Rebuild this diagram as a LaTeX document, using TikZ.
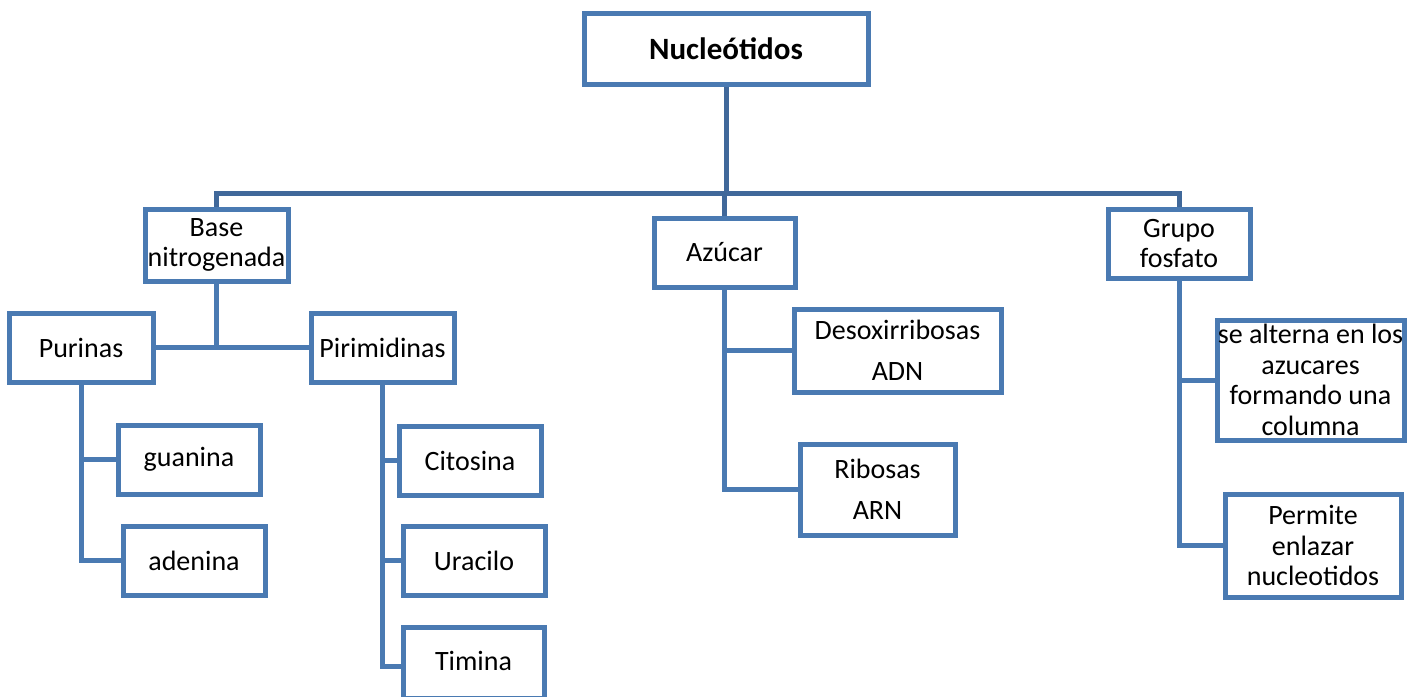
\documentclass[tikz,border=0pt]{standalone}
\usepackage{fontspec}
\setmainfont{Carlito}
\definecolor{boxblue}{RGB}{74,122,178}
\definecolor{barblue}{RGB}{64,104,154}
\begin{document}
\begin{tikzpicture}[x=1pt,y=-1pt,
  box/.style={draw=boxblue, line width=5pt, fill=white, inner sep=0pt,
    align=center, font=\fontsize{28}{30.5}\selectfont},
  link/.style={draw=boxblue, line width=5pt, line join=miter},
  toplink/.style={draw=barblue, line width=5pt, line join=miter}]
\useasboundingbox (0,0) rectangle (1424,696);
\clip (0,0) rectangle (1424,696);
\fill[white] (0,0) rectangle (1424,696);

% root
\node[box, minimum width=284pt, minimum height=71pt, font=\fontsize{31}{34}\selectfont\bfseries] (nuc) at (726,48.5) {Nucleótidos};

% first level
\node[box, minimum width=143pt, minimum height=72pt] (base) at (216.5,245) {Base\\nitrogenada};
\node[box, minimum width=141pt, minimum height=69pt] (azu) at (724.5,252.5) {Azúcar};
\node[box, minimum width=142pt, minimum height=69pt] (gru) at (1179,243.5) {Grupo\\fosfato};

% nitrogen bases
\node[box, minimum width=144pt, minimum height=69pt] (pur) at (81,347.5) {Purinas};
\node[box, minimum width=143pt, minimum height=69pt] (pir) at (382.5,347.5) {Pirimidinas};
\node[box, minimum width=142pt, minimum height=69pt] (gua) at (189,459.5) {guanina};
\node[box, minimum width=142pt, minimum height=69pt] (ade) at (194,560.5) {adenina};
\node[box, minimum width=142pt, minimum height=69pt] (cit) at (470,460.5) {Citosina};
\node[box, minimum width=142pt, minimum height=69pt] (ura) at (474,560.5) {Uracilo};
\node[box, minimum width=141pt, minimum height=71pt] (tim) at (473.5,663) {\raisebox{4pt}{Timina}};

% sugars
\node[box, minimum width=207pt, minimum height=83pt] (des) at (897.5,350.5) {Desoxirribosas\\[11pt]ADN};
\node[box, minimum width=155pt, minimum height=91pt] (rib) at (877.5,489.5) {Ribosas\\[11pt]ARN};

% phosphate
\node[box, minimum width=187pt, minimum height=120pt] (alt) at (1310.5,380) {se alterna en los\\azucares\\formando una\\columna};
\node[box, minimum width=176pt, minimum height=103pt] (per) at (1313,545.5) {Permite\\enlazar\\nucleotidos};

% trunk and main bar
\coordinate (hub) at (726,193);
\draw[toplink] (nuc) -- (hub);
\draw[toplink] (base) |- (hub) -| (gru);
\draw[toplink] (azu.north) -- (azu.north |- hub);

% base branches
\coordinate (bj) at (216.5,347.5);
\draw[link] (base) -- (bj);
\draw[link] (pur.east) -- (pir.west);
\draw[link] (pur.south) |- (ade.west);
\draw[link] (gua.west) -- (gua.west -| pur.south);
\draw[link] (pir.south) |- ([yshift=-3pt]tim.west);
\draw[link] (cit.west) -- (cit.west -| pir.south);
\draw[link] (ura.west) -- (ura.west -| pir.south);

% sugar branches
\draw[link] (azu.south) |- (rib.west);
\draw[link] (des.west) -- (des.west -| azu.south);

% phosphate branches
\draw[link] (gru.south) |- (per.west);
\draw[link] (alt.west) -- (alt.west -| gru.south);
\end{tikzpicture}
\end{document}
